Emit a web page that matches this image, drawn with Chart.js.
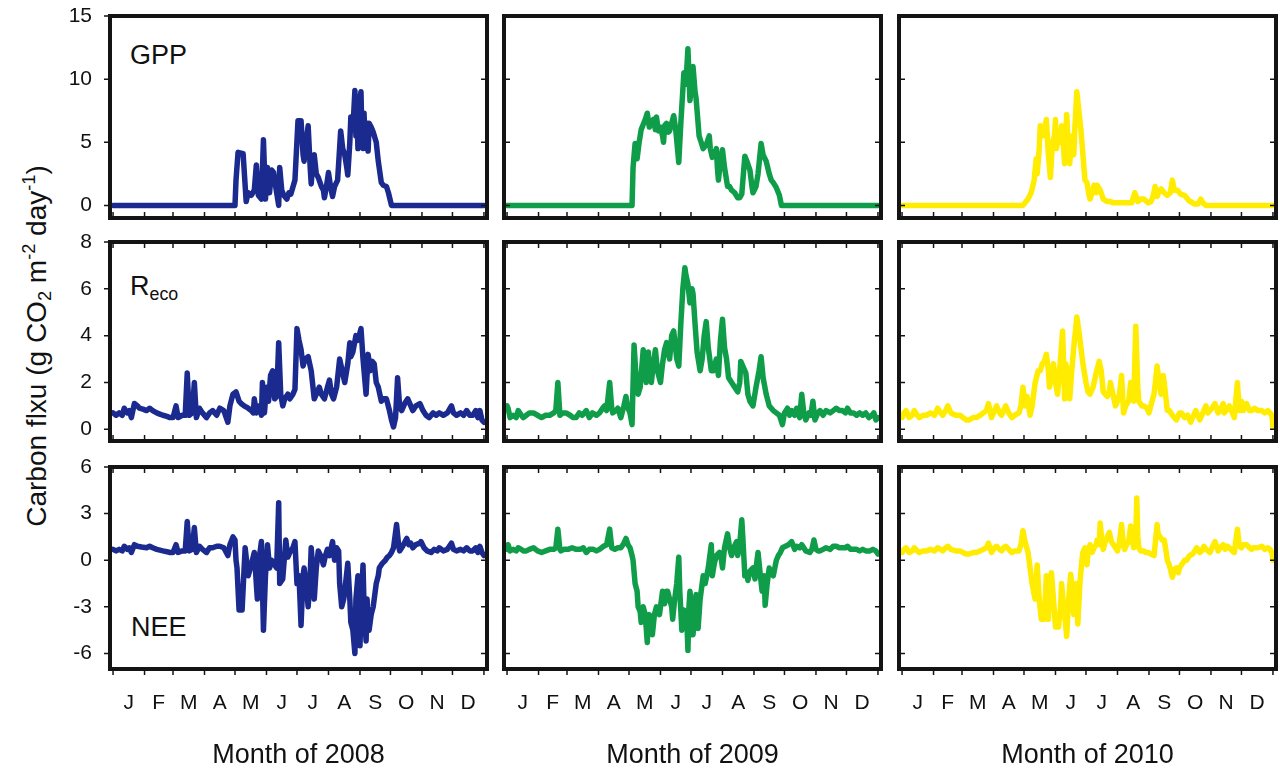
<!DOCTYPE html>
<html>
<head>
<meta charset="utf-8">
<script src="https://cdn.jsdelivr.net/npm/chart.js@4.4.1/dist/chart.umd.min.js"></script>
<style>
  body { margin: 0; background: #fff; width: 1280px; height: 769px; overflow: hidden; position: relative;
         font-family: "Liberation Sans", Arial, sans-serif; color: #111; }
  canvas { position: absolute; }
  .tag { position: absolute; font-size: 27px; line-height: 1; white-space: nowrap; }
  .tag sub { font-size: 0.66em; vertical-align: -0.3em; }
  .ytitle { position: absolute; left: 37px; top: 346px; font-size: 28px; line-height: 1; white-space: nowrap;
            transform: translate(-50%, -50%) rotate(-90deg); }
  .ytitle sub { font-size: 0.65em; vertical-align: -0.3em; }
  .ytitle sup { font-size: 0.65em; vertical-align: 0.6em; }
</style>
</head>
<body>
<div class="ytitle">Carbon flxu (g CO<sub>2</sub> m<sup>-2</sup> day<sup>-1</sup>)</div>
<div class="tag" style="left:130px; top:42px;">GPP</div>
<div class="tag" style="left:130px; top:273px;">R<sub>eco</sub></div>
<div class="tag" style="left:131px; top:614px;">NEE</div>

<script>
// x axis: day of year
const years = ["2008", "2009", "2010"];
const monthLabels = ["J", "F", "M", "A", "M", "J", "J", "A", "S", "O", "N", "D"];
const monthEdges = [0, 31, 59, 90, 120, 151, 181, 212, 243, 273, 304, 334, 365];
const monthMids = [15.5, 45, 74.5, 105, 135.5, 166, 196.5, 227.5, 258, 288.5, 319, 349.5];

// y ticks per row
const gppTicks = [0, 5, 10, 15];
const recoTicks = [0, 2, 4, 6, 8];
const neeTicks = [-6, -3, 0, 3, 6];

// [day, flux]
const gpp2008 = [[0,0],[120,0],[121,2.0],[123,4.2],[128,4.1],[131,0.3],[133,1.0],[136,0.8],[139,1.2],[141,3.2],[143,0.8],[146,0.5],[148,5.2],[150,0.5],[152,3.0],[154,1.0],[156,2.8],[158,2.6],[160,1.5],[163,0.0],[164,3.0],[166,1.2],[168,0.8],[171,0.5],[173,1.0],[175,0.9],[179,2.0],[182,6.7],[185,6.7],[187,4.0],[188,3.5],[190,5.0],[192,6.3],[194,3.0],[195,1.7],[197,3.8],[198,4.0],[200,2.5],[202,2.2],[205,1.5],[207,1.2],[208,0.6],[210,1.5],[212,2.6],[214,1.5],[216,0.7],[218,1.5],[221,2.0],[224,5.9],[226,4.5],[228,4.0],[230,3.0],[231,2.4],[233,5.0],[234,7.0],[236,6.0],[238,9.1],[239,5.5],[240,7.5],[241,4.5],[242,8.0],[244,9.0],[245,5.0],[246,4.5],[247,7.3],[248,5.0],[249,4.5],[250,6.5],[251,4.3],[252,6.5],[254,6.2],[256,5.8],[259,5.0],[261,3.5],[264,1.8],[266,1.6],[269,1.5],[271,1.0],[274,0],[365,0]];
const reco2008 = [[0,0.7],[3,0.6],[6,0.7],[9,0.6],[11,0.9],[14,0.7],[16,0.8],[18,0.5],[21,1.1],[24,1.0],[26,0.9],[30,0.85],[33,0.8],[36,0.9],[39,0.8],[43,0.7],[46,0.65],[49,0.6],[53,0.55],[56,0.5],[59,0.5],[62,1.0],[64,0.5],[68,0.6],[71,0.6],[73,2.4],[75,0.6],[78,0.7],[80,2.0],[82,0.5],[85,0.9],[88,0.7],[92,0.5],[95,0.7],[98,0.8],[102,0.6],[105,0.9],[109,0.8],[113,0.3],[115,1.0],[118,1.5],[121,1.6],[124,1.2],[126,1.1],[129,1.0],[133,0.9],[136,0.8],[138,0.7],[139,1.3],[141,0.7],[144,1.0],[146,0.6],[147,2.0],[149,0.7],[151,1.8],[153,1.2],[155,2.3],[157,2.5],[159,1.3],[161,1.4],[163,3.7],[165,1.5],[167,1.0],[169,1.3],[172,1.5],[174,1.3],[177,1.5],[179,1.7],[181,4.3],[183,3.8],[185,3.4],[187,2.7],[189,3.0],[192,3.1],[195,2.5],[198,1.3],[201,1.6],[203,1.8],[205,1.5],[208,1.3],[211,1.8],[213,2.1],[215,1.5],[217,1.3],[220,1.8],[223,3.0],[225,2.6],[228,2.0],[231,2.8],[233,3.7],[234,3.1],[236,3.3],[239,4.0],[241,3.8],[244,4.3],[246,3.0],[249,1.5],[251,3.2],[253,2.5],[255,2.9],[257,2.8],[259,2.0],[261,1.8],[264,1.2],[266,1.3],[269,1.3],[272,0.8],[274,0.4],[276,0.1],[278,0.5],[280,2.2],[282,1.0],[284,0.8],[287,1.1],[290,1.3],[293,1.0],[295,0.8],[298,1.0],[302,1.1],[305,0.8],[308,0.6],[311,0.5],[315,0.7],[318,0.6],[321,0.7],[325,0.6],[329,0.7],[333,1.0],[335,0.7],[338,0.6],[342,0.7],[345,0.6],[348,0.8],[351,0.6],[354,0.6],[357,0.8],[359,0.5],[361,0.8],[363,0.4],[365,0.3]];
const nee2008 = [[0,0.7],[3,0.6],[6,0.7],[9,0.6],[11,0.9],[14,0.7],[16,0.8],[18,0.5],[21,1.0],[24,0.9],[28,0.85],[33,0.8],[36,0.9],[39,0.8],[43,0.7],[46,0.65],[49,0.6],[53,0.55],[56,0.5],[59,0.5],[62,1.0],[64,0.5],[68,0.6],[71,0.6],[73,2.5],[75,0.6],[78,0.7],[80,2.1],[82,0.5],[85,0.9],[88,0.7],[92,0.5],[95,0.8],[98,0.8],[102,0.9],[105,0.9],[109,0.8],[113,0.3],[115,1.0],[118,1.5],[120,1.3],[121,0.0],[122,-0.5],[124,-3.2],[127,-3.2],[129,-0.5],[130,0.8],[133,-1.0],[136,-0.3],[139,0.5],[142,-2.5],[144,0.2],[146,1.2],[148,-4.5],[150,-1.0],[152,1.0],[154,-0.5],[156,0.0],[159,-0.3],[161,-0.5],[163,3.7],[164,-1.5],[167,-1.2],[170,1.3],[172,0.2],[174,0.5],[177,0.8],[179,1.2],[181,-1.5],[183,-1.0],[185,-4.2],[187,-1.0],[188,-0.5],[190,-1.5],[192,-3.0],[194,-1.0],[195,0.8],[197,-1.0],[198,-2.5],[200,-0.5],[202,0.6],[205,0.2],[207,-0.3],[209,0.3],[211,0.7],[213,0.3],[216,1.2],[218,0.0],[220,0.8],[222,0.6],[223,-1.5],[225,-3.0],[227,-2.5],[228,-2.0],[231,-0.2],[233,-2.5],[234,-4.0],[236,-4.5],[238,-6.0],[239,-2.5],[241,-1.0],[242,-3.5],[243,-5.5],[244,-3.0],[246,-0.3],[247,-3.0],[249,-5.2],[250,-2.5],[251,-4.0],[252,-4.5],[254,-3.5],[256,-3.0],[258,-2.0],[259,-1.5],[261,-1.0],[262,-0.5],[265,-0.2],[268,0.0],[270,0.2],[272,0.3],[274,0.5],[276,0.8],[279,2.3],[281,1.0],[282,0.6],[285,0.9],[289,1.4],[291,1.0],[293,1.1],[295,0.8],[298,1.0],[302,1.1],[303,1.2],[306,0.8],[309,0.6],[313,0.5],[316,0.7],[319,0.6],[321,0.8],[325,0.6],[329,0.7],[333,1.1],[335,0.7],[338,0.6],[342,0.7],[345,0.6],[348,0.8],[351,0.6],[354,0.6],[357,0.8],[359,0.5],[361,0.9],[363,0.5],[365,0.3]];

const gpp2009 = [[0,0],[123,0],[124,3.0],[126,4.9],[128,3.7],[130,5.0],[132,6.0],[134,6.4],[136,6.8],[138,7.3],[140,6.2],[142,6.6],[144,6.8],[146,6.0],[147,7.0],[149,5.9],[151,6.2],[153,5.5],[154,5.0],[155,6.3],[157,6.5],[159,5.8],[160,5.9],[162,6.5],[164,7.1],[166,6.0],[169,3.4],[171,6.5],[174,10.5],[176,9.6],[178,12.4],[180,8.3],[182,10.0],[183,11.0],[185,9.0],[186,8.5],[188,6.5],[189,5.5],[191,5.0],[193,4.5],[196,4.8],[199,5.5],[200,4.5],[202,3.8],[204,4.0],[206,4.5],[207,3.0],[208,2.0],[210,3.5],[212,4.4],[214,3.0],[217,1.5],[219,1.5],[221,1.2],[224,1.0],[227,0.6],[229,0.6],[231,0.9],[234,3.9],[236,3.5],[239,2.8],[241,1.5],[242,1.0],[245,1.5],[247,2.5],[250,4.9],[252,4.0],[255,3.5],[258,2.5],[260,2.0],[262,1.8],[265,1.4],[268,0.8],[270,0],[365,0]];
const reco2009 = [[0,1.0],[1,0.9],[3,0.5],[6,0.6],[9,0.5],[11,0.8],[14,0.6],[16,0.5],[19,0.6],[22,0.7],[26,0.7],[30,0.6],[34,0.5],[38,0.6],[42,0.6],[46,0.7],[48,0.8],[50,2.0],[52,0.6],[55,0.7],[58,0.7],[62,0.6],[65,0.5],[68,0.5],[71,0.7],[74,0.6],[78,0.8],[81,0.5],[84,0.7],[88,0.6],[91,0.7],[94,0.9],[96,1.0],[98,0.8],[101,2.0],[103,0.9],[104,0.7],[107,0.8],[109,0.9],[112,0.5],[115,1.0],[117,1.4],[119,0.9],[121,0.7],[123,0.2],[125,3.6],[127,2.2],[129,1.5],[131,1.8],[134,3.4],[136,2.5],[137,2.0],[139,3.3],[140,2.6],[142,2.0],[144,2.8],[146,3.4],[148,2.5],[151,2.0],[153,2.8],[155,3.4],[157,3.7],[159,3.2],[160,3.0],[162,4.0],[164,4.2],[165,3.8],[167,3.0],[169,2.7],[171,4.5],[173,6.0],[175,6.9],[176,6.6],[178,6.2],[180,5.4],[182,6.0],[183,5.8],[185,4.5],[187,3.3],[190,2.5],[192,3.0],[194,4.0],[196,4.6],[198,3.5],[201,2.5],[203,2.5],[206,3.0],[208,2.3],[210,3.8],[212,4.7],[214,3.5],[216,3.0],[218,2.2],[221,2.0],[224,1.8],[227,1.6],[229,2.0],[230,2.9],[232,2.7],[235,2.4],[237,1.5],[239,1.2],[242,1.0],[245,1.8],[248,2.5],[250,3.1],[252,2.2],[255,1.5],[258,1.0],[262,0.8],[265,0.7],[268,0.6],[271,0.2],[273,0.7],[276,0.9],[278,0.6],[280,0.8],[283,0.6],[285,0.9],[288,0.5],[290,1.5],[292,0.7],[294,0.4],[297,0.7],[299,0.6],[301,1.2],[303,0.4],[306,0.7],[308,0.8],[311,0.6],[314,0.8],[318,0.7],[321,0.8],[324,0.9],[327,0.8],[330,0.8],[333,0.7],[335,0.9],[338,0.7],[341,0.7],[344,0.6],[347,0.7],[350,0.6],[353,0.7],[356,0.5],[359,0.6],[361,0.7],[363,0.4],[365,0.5]];
const nee2009 = [[0,0.7],[1,1.0],[3,0.6],[6,0.7],[9,0.6],[11,0.8],[14,0.7],[16,0.6],[19,0.6],[22,0.7],[26,0.8],[30,0.6],[34,0.5],[38,0.6],[42,0.7],[46,0.7],[48,0.8],[50,2.0],[52,0.7],[53,0.6],[56,0.7],[60,0.7],[64,0.8],[68,0.7],[72,0.7],[75,0.8],[78,0.5],[81,0.7],[85,0.7],[88,0.6],[91,0.7],[95,0.9],[98,1.0],[101,2.0],[103,0.8],[106,0.7],[109,0.8],[112,0.8],[115,1.1],[117,1.4],[119,1.0],[121,0.8],[123,0.3],[124,0.0],[126,-1.5],[128,-2.0],[129,-3.0],[131,-3.3],[132,-4.0],[134,-3.0],[136,-3.5],[138,-5.3],[139,-4.0],[140,-3.5],[142,-4.2],[143,-4.8],[145,-3.5],[147,-3.0],[149,-3.2],[150,-3.5],[152,-2.5],[153,-2.0],[155,-2.8],[157,-2.0],[158,-2.0],[160,-2.5],[162,-3.0],[163,-3.8],[165,-2.5],[167,-1.5],[169,0.2],[170,-2.0],[172,-4.5],[174,-3.2],[175,-3.5],[177,-4.0],[178,-5.8],[179,-3.0],[180,-2.0],[182,-3.5],[183,-4.8],[185,-3.0],[186,-2.2],[188,-4.4],[190,-2.5],[193,-1.0],[195,-1.5],[198,-0.5],[199,0.0],[201,1.0],[202,-1.0],[204,-0.2],[206,0.3],[209,0.5],[211,0.0],[212,-0.5],[214,0.8],[217,1.7],[219,0.8],[221,0.3],[223,0.8],[226,1.2],[227,0.3],[229,1.0],[231,2.6],[232,1.5],[234,-1.0],[236,-0.8],[237,-1.3],[239,-0.7],[242,-0.5],[244,-1.2],[245,-0.5],[247,0.5],[249,-0.8],[251,-2.0],[253,-1.0],[254,-2.9],[256,-1.5],[258,-0.5],[260,-0.8],[262,-1.0],[265,0.0],[267,0.3],[269,0.5],[271,0.8],[274,0.9],[277,1.0],[280,1.2],[283,0.7],[285,0.9],[288,0.8],[290,1.0],[292,0.8],[294,0.6],[298,0.5],[300,0.7],[302,1.3],[304,0.7],[306,0.6],[308,0.6],[311,0.7],[314,0.8],[318,0.7],[321,0.9],[324,0.9],[327,0.8],[330,0.8],[333,0.8],[335,0.9],[338,0.7],[341,0.7],[344,0.7],[347,0.6],[350,0.7],[353,0.6],[357,0.6],[360,0.7],[363,0.6],[365,0.4]];

const gpp2010 = [[0,0],[119,0],[122,0.3],[124,0.5],[127,1.0],[128,1.3],[130,2.0],[132,3.7],[133,2.5],[135,4.5],[136,6.3],[138,5.5],[140,6.0],[142,6.8],[144,4.0],[146,2.2],[148,5.0],[150,5.5],[151,6.8],[152,4.5],[154,5.8],[156,5.0],[157,6.3],[159,4.5],[160,3.3],[162,7.2],[164,4.0],[165,3.3],[167,5.5],[169,4.0],[170,6.0],[172,9.0],[174,7.5],[176,6.0],[178,4.0],[180,2.0],[182,1.8],[184,0.8],[185,0.5],[187,1.0],[189,1.6],[191,1.0],[192,1.6],[195,1.2],[198,0.5],[202,0.3],[205,0.3],[208,0.2],[215,0.2],[222,0.2],[226,0.2],[229,1.0],[231,0.6],[232,0.3],[235,0.5],[238,0.5],[242,0.2],[245,0.3],[247,0.7],[249,1.5],[251,0.7],[253,1.1],[255,1.3],[258,1.0],[261,0.8],[264,1.0],[266,2.0],[268,1.2],[271,1.2],[274,0.9],[278,0.8],[282,0.4],[284,0.3],[288,0.1],[291,0.1],[294,0.5],[296,0.2],[299,0],[365,0]];
const reco2010 = [[0,0.5],[2,0.7],[4,0.8],[7,0.5],[10,0.6],[12,0.8],[15,0.6],[17,0.5],[21,0.6],[24,0.6],[28,0.7],[32,0.6],[35,0.9],[38,0.7],[40,0.6],[43,0.8],[45,1.0],[48,0.7],[53,0.6],[57,0.6],[60,0.5],[63,0.4],[66,0.4],[70,0.5],[73,0.5],[77,0.6],[80,0.7],[83,0.8],[85,1.1],[88,0.5],[91,0.8],[93,1.0],[96,0.7],[98,0.6],[100,0.8],[102,1.0],[105,0.7],[108,0.5],[111,0.6],[115,0.7],[117,1.0],[119,1.8],[121,1.0],[123,1.4],[126,0.6],[128,1.0],[131,2.0],[134,2.5],[136,2.5],[138,2.8],[140,2.9],[142,3.2],[144,2.5],[145,1.8],[147,2.2],[149,2.8],[151,2.0],[153,1.5],[155,2.5],[158,4.2],[160,1.3],[161,2.8],[163,2.5],[165,1.3],[167,2.5],[169,3.5],[172,4.8],[174,4.2],[176,3.5],[178,2.8],[181,2.0],[183,1.6],[185,1.5],[188,1.8],[191,2.4],[194,2.9],[196,2.5],[198,1.6],[200,1.5],[202,1.4],[204,1.6],[205,2.0],[207,1.6],[210,1.0],[212,1.2],[214,1.5],[216,2.3],[218,0.7],[220,1.0],[223,1.2],[225,2.0],[227,1.5],[228,1.2],[230,4.4],[232,1.8],[233,1.2],[236,1.0],[238,1.0],[241,0.9],[243,0.7],[246,1.2],[248,1.5],[251,2.7],[253,2.0],[255,1.5],[257,2.3],[258,2.0],[261,0.8],[263,0.8],[266,0.6],[268,0.5],[270,0.4],[273,0.7],[275,0.7],[278,0.5],[281,0.6],[284,0.3],[287,0.6],[289,0.8],[291,0.6],[293,0.4],[296,0.7],[299,1.0],[301,0.7],[303,0.8],[305,0.9],[308,1.1],[311,0.7],[313,0.8],[316,1.1],[317,0.7],[319,0.8],[322,1.0],[325,0.7],[327,0.5],[330,2.0],[332,0.8],[334,1.2],[336,0.8],[339,1.1],[342,0.8],[344,0.8],[347,0.9],[350,0.8],[354,0.8],[357,0.7],[360,0.8],[362,0.7],[364,0.6],[365,0.1]];
const nee2010 = [[0,0.5],[2,0.7],[4,0.8],[7,0.5],[10,0.6],[12,0.8],[15,0.6],[17,0.5],[21,0.6],[24,0.6],[28,0.7],[32,0.6],[35,0.8],[38,0.7],[40,0.6],[43,0.8],[45,0.9],[48,0.7],[53,0.6],[57,0.6],[60,0.5],[63,0.4],[66,0.4],[70,0.5],[73,0.5],[77,0.6],[80,0.7],[83,0.8],[85,1.1],[88,0.5],[91,0.8],[93,0.9],[96,0.7],[98,0.6],[100,0.8],[102,0.9],[105,0.7],[108,0.5],[111,0.6],[115,0.6],[117,1.0],[119,1.9],[121,1.2],[124,0.5],[126,-0.5],[128,-1.5],[130,-2.2],[131,-2.5],[133,-0.3],[135,-2.5],[137,-3.8],[139,-3.0],[140,-3.8],[142,-1.0],[144,-3.8],[145,-2.0],[147,-0.8],[149,-2.5],[151,-4.3],[152,-3.5],[154,-4.3],[156,-3.0],[157,-1.5],[159,-3.0],[160,-3.5],[162,-4.9],[164,-2.5],[166,-0.9],[168,-2.5],[169,-3.5],[171,-1.5],[173,-4.1],[175,-1.5],[177,0.0],[178,0.5],[180,0.8],[182,-0.3],[183,0.5],[185,1.0],[187,0.5],[189,0.8],[191,1.0],[192,1.3],[194,1.0],[195,2.4],[197,1.0],[198,0.7],[200,1.2],[202,1.5],[204,1.8],[206,1.2],[208,1.0],[210,0.8],[212,0.6],[214,1.2],[216,2.3],[218,0.9],[219,0.7],[221,1.0],[223,1.2],[225,2.2],[227,1.2],[228,0.8],[230,1.5],[231,4.0],[232,1.5],[233,0.8],[235,0.6],[238,0.6],[240,0.5],[242,0.5],[245,0.4],[248,0.3],[251,2.3],[252,1.7],[254,1.5],[256,1.3],[258,1.3],[260,0.5],[261,0.0],[263,-0.3],[266,-1.1],[268,-0.6],[270,-0.5],[272,-0.8],[273,-0.5],[275,-0.3],[278,0.0],[280,0.0],[283,0.3],[286,0.4],[288,0.6],[290,0.8],[293,0.5],[295,0.6],[297,0.9],[299,0.7],[301,0.6],[303,0.5],[305,0.8],[308,1.2],[311,0.6],[313,0.8],[316,1.0],[318,0.7],[320,0.9],[322,0.8],[325,0.6],[327,0.5],[330,2.0],[332,0.9],[334,0.8],[336,1.0],[339,1.0],[342,0.8],[344,0.7],[346,0.8],[350,0.8],[354,0.9],[357,0.7],[360,0.8],[362,0.7],[364,0.5],[365,0.0]];

const seriesGrid = [
    [gpp2008, gpp2009, gpp2010],
    [reco2008, reco2009, reco2010],
    [nee2008, nee2009, nee2010]
];
const lineColors = ["#1b2a8f", "#0f9d4a", "#ffec00"];

// layout (pixels)
const colLeft = [110, 504, 899];
const panelW = 377;
const rowTop = [16, 242, 467];
const rowH = [202, 199, 202];
const rowRange = [[-1, 15], [-0.5, 8], [-7, 6]];
const rowTicks = [gppTicks, recoTicks, neeTicks];
const AXW = 60, PADV = 34, PADR = 14, BOT = 103, TICK = 6;
const FONT = "'Liberation Sans', Arial, sans-serif";

// frame and inward/outward tick marks
const framePlugin = {
    id: "frame",
    afterDatasetsDraw(chart, args, opts) {
        const { ctx, chartArea: a, scales } = chart;
        ctx.save();
        ctx.strokeStyle = "#141414";
        ctx.lineWidth = 1.5;
        ctx.beginPath();
        monthEdges.forEach(v => {
            const px = scales.x.getPixelForValue(v);
            if (opts.topTicks) { ctx.moveTo(px, a.top); ctx.lineTo(px, a.top + TICK); }
            const d = opts.bottomOut ? TICK : -TICK;
            ctx.moveTo(px, a.bottom); ctx.lineTo(px, a.bottom + d);
        });
        scales.y.ticks.forEach(t => {
            const py = scales.y.getPixelForValue(t.value);
            const d = opts.leftOut ? -TICK : TICK;
            ctx.moveTo(a.left, py); ctx.lineTo(a.left + d, py);
            ctx.moveTo(a.right, py); ctx.lineTo(a.right - TICK, py);
        });
        ctx.stroke();
        ctx.lineWidth = 4;
        ctx.strokeRect(a.left, a.top, a.right - a.left, a.bottom - a.top);
        ctx.restore();
    }
};

function makePanel(row, col) {
    const isBottom = row === 2;
    const canvas = document.createElement("canvas");
    const w = AXW + panelW + PADR;
    const h = PADV + rowH[row] + (isBottom ? BOT : PADV);
    canvas.width = w;
    canvas.height = h;
    canvas.style.left = (colLeft[col] - AXW) + "px";
    canvas.style.top = (rowTop[row] - PADV) + "px";
    canvas.style.width = w + "px";
    canvas.style.height = h + "px";
    document.body.appendChild(canvas);

    const scales = {
        x: {
            type: "linear", axis: "x", position: "bottom", min: -3, max: 368, display: false
        },
        y: {
            type: "linear", position: "left", min: rowRange[row][0], max: rowRange[row][1],
            afterBuildTicks: s => { s.ticks = rowTicks[row].map(v => ({ value: v })); },
            afterFit: s => { s.width = AXW; },
            grid: { display: false, drawTicks: false },
            border: { display: false },
            ticks: { display: col === 0, padding: 18, color: "#111", font: { family: FONT, size: 21 } }
        }
    };
    if (isBottom) {
        scales.months = {
            type: "linear", axis: "x", position: "bottom", min: -3, max: 368,
            afterBuildTicks: s => { s.ticks = monthMids.map(v => ({ value: v })); },
            afterFit: s => { s.height = BOT; },
            grid: { display: false, drawTicks: false },
            border: { display: false },
            ticks: {
                autoSkip: false, maxRotation: 0, padding: 22, color: "#111",
                font: { family: FONT, size: 21 },
                callback: (v, i) => monthLabels[i]
            },
            title: {
                display: true, text: "Month of " + years[col], color: "#111",
                font: { family: FONT, size: 27 }, padding: 0
            }
        };
    }

    new Chart(canvas, {
        type: "line",
        data: {
            datasets: [{
                data: seriesGrid[row][col].map(p => ({ x: p[0], y: p[1] })),
                xAxisID: "x",
                yAxisID: "y",
                borderColor: lineColors[col],
                borderWidth: 5.5,
                borderJoinStyle: "round",
                borderCapStyle: "round",
                pointRadius: 0,
                tension: 0,
                fill: false
            }]
        },
        options: {
            responsive: false,
            animation: false,
            devicePixelRatio: 1,
            layout: { padding: { left: 0, right: PADR, top: PADV, bottom: isBottom ? 0 : PADV } },
            plugins: {
                legend: { display: false },
                tooltip: { enabled: false },
                frame: { topTicks: row !== 0, bottomOut: isBottom, leftOut: col === 0 }
            },
            scales: scales
        },
        plugins: [framePlugin]
    });
}

for (let r = 0; r < 3; r++) {
    for (let c = 0; c < 3; c++) {
        makePanel(r, c);
    }
}
</script>
</body>
</html>
